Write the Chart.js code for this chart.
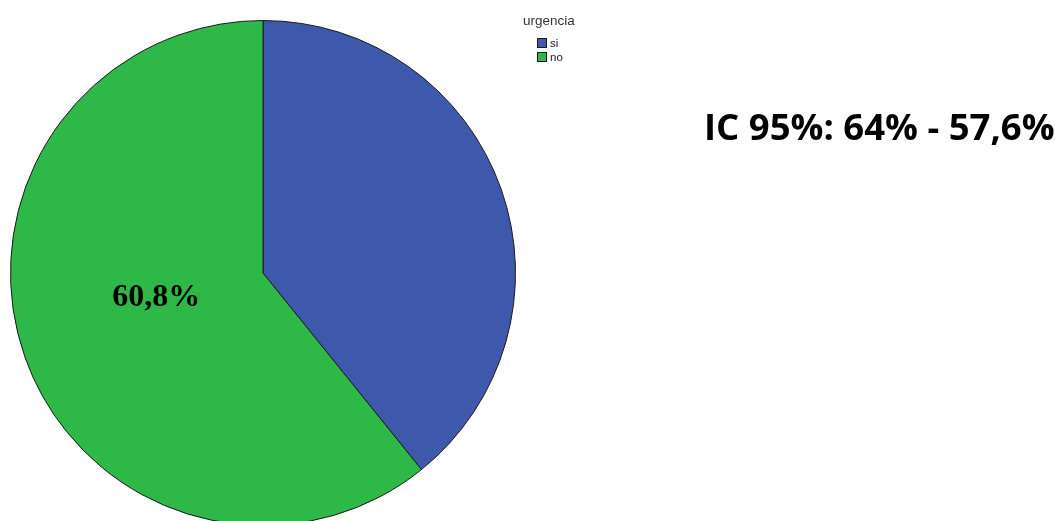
<!DOCTYPE html>
<html>
<head>
<meta charset="utf-8">
<script src="https://cdn.jsdelivr.net/npm/chart.js@4/dist/chart.umd.min.js"></script>
<style>
  html, body { margin: 0; padding: 0; background: #fff; overflow: hidden; }
  #wrap { position: relative; width: 1060px; height: 530px; }
  #ic {
    position: absolute; left: 704px; top: 108px; margin: 0;
    font-family: "Open Sans", sans-serif; font-weight: 700; font-size: 36.5px;
    line-height: 1; color: #000; white-space: nowrap;
  }
</style>
</head>
<body>
<div id="wrap">
  <canvas id="pie" width="1060" height="530"></canvas>
  <p id="ic">IC 95%: 64% - 57,6%</p>
</div>
<script>
// datos
var etiquetas = ['si', 'no'];
var porcentajes = [39.2, 60.8];
var colores = ['#3e58ac', '#2eb848'];
var tituloLeyenda = 'urgencia';

// leyenda y etiqueta del sector "no"
var extras = {
  id: 'extras',
  afterDraw: function (chart) {
    var ctx = chart.ctx;
    ctx.save();
    ctx.fillStyle = '#333';
    ctx.font = '13.5px "Liberation Sans", Arial, sans-serif';
    ctx.textBaseline = 'middle';
    ctx.fillText(tituloLeyenda, 523, 21);
    ctx.font = '11.5px "Liberation Sans", Arial, sans-serif';
    etiquetas.forEach(function (lab, i) {
      var y = 38 + i * 14;
      ctx.fillStyle = colores[i];
      ctx.fillRect(537, y, 10, 10);
      ctx.strokeStyle = '#1a1a1a';
      ctx.lineWidth = 1;
      ctx.strokeRect(537.5, y + 0.5, 9, 9);
      ctx.fillStyle = '#222';
      ctx.fillText(lab, 550, y + 6);
    });

    // solo se rotula el sector verde
    var arc = chart.getDatasetMeta(0).data[1];
    var mid = (arc.startAngle + arc.endAngle) / 2;
    var r = arc.outerRadius * 0.44;
    var x = arc.x + Math.cos(mid) * r;
    var y2 = arc.y + Math.sin(mid) * r - 12;
    ctx.fillStyle = '#000';
    ctx.font = 'bold 32px "Liberation Serif", "Times New Roman", serif';
    ctx.textAlign = 'center';
    ctx.fillText(porcentajes[1].toFixed(1).replace('.', ',') + '%', x - 2, y2);
    ctx.restore();
  }
};

var ctx = document.getElementById('pie').getContext('2d');
var chart = new Chart(ctx, {
  type: 'pie',
  data: {
    labels: etiquetas,
    datasets: [{
      data: porcentajes,
      backgroundColor: colores,
      borderColor: '#1a1a1a',
      borderWidth: 1
    }]
  },
  options: {
    responsive: false,
    animation: false,
    layout: { padding: { left: 10, top: 20, right: 544, bottom: 4 } },
    plugins: {
      legend: { display: false },
      tooltip: { enabled: false }
    }
  },
  plugins: [extras]
});
</script>
</body>
</html>
